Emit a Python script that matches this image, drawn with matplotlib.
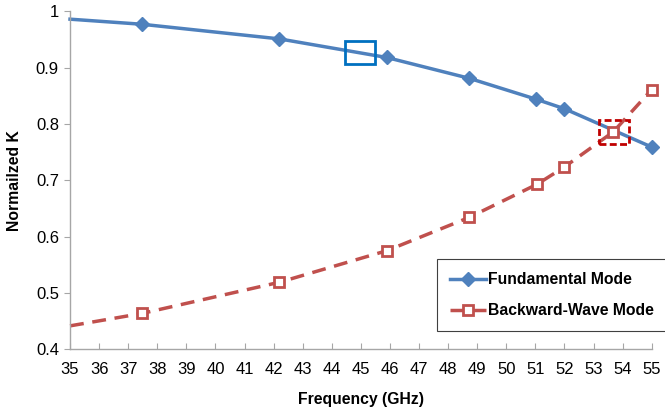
import matplotlib.pyplot as plt
from matplotlib.patches import Rectangle

plt.rcParams['font.family'] = ['Liberation Sans', 'DejaVu Sans']

# ==================== data ====================
freq_fund = [35.0, 37.47, 42.2, 45.89, 48.73, 51.02, 52.0, 55.0]
k_fund = [0.986, 0.977, 0.951, 0.918, 0.881, 0.844, 0.827, 0.759]

freq_bw = [35.0, 37.47, 42.2, 45.89, 48.72, 51.06, 51.98, 53.68, 55.0]
k_bw = [0.4416, 0.4636, 0.519, 0.575, 0.634, 0.693, 0.723, 0.786, 0.861]

xticks = list(range(35, 56))
yticks = [0.4, 0.5, 0.6, 0.7, 0.8, 0.9, 1.0]
ytick_labels = ['0.4', '0.5', '0.6', '0.7', '0.8', '0.9', '1']

# highlight boxes (x0, y0, width, height) in data units
box_fund = (44.46, 0.906, 1.01, 0.041)
box_bw = (53.2, 0.764, 1.02, 0.043)

blue = '#4F81BD'
red = '#C0504D'

# ==================== plot ====================
fig = plt.figure(figsize=(6.65, 4.15), dpi=100)
ax = fig.add_axes([0.1053, 0.1583, 0.8747, 0.8145])

ax.plot(freq_fund, k_fund, '-', color=blue, linewidth=2.5, marker='D', markersize=7,
        markerfacecolor=blue, markeredgecolor=blue, markevery=list(range(1, len(freq_fund))),
        label='Fundamental Mode', clip_on=False)
ax.plot(freq_bw, k_bw, '--', color=red, linewidth=2.5, dashes=(4, 2.5), marker='s', markersize=7,
        markerfacecolor='white', markeredgecolor=red, markeredgewidth=2,
        markevery=list(range(1, len(freq_bw))), label='Backward-Wave Mode', clip_on=False)

ax.add_patch(Rectangle(box_fund[:2], box_fund[2], box_fund[3], fill=False,
                       edgecolor='#0070C0', linewidth=2, zorder=5))
ax.add_patch(Rectangle(box_bw[:2], box_bw[2], box_bw[3], fill=False,
                       edgecolor='#C00000', linewidth=2, linestyle=(0, (2.5, 1.2)), zorder=5))

ax.set_xlim(35, 55)
ax.set_ylim(0.4, 1.0)
ax.set_xticks(xticks)
ax.set_yticks(yticks)
ax.set_yticklabels(ytick_labels)

for s in ['top', 'right']:
    ax.spines[s].set_visible(False)
for s in ['left', 'bottom']:
    ax.spines[s].set_color('#A6A6A6')
    ax.spines[s].set_linewidth(1)
ax.tick_params(axis='x', direction='in', length=4, color='#A6A6A6', labelsize=12, pad=9)
ax.tick_params(axis='y', direction='out', length=4, color='#A6A6A6', labelsize=12, pad=4)

ax.set_xlabel('Frequency (GHz)', fontsize=11.3, fontweight='bold', labelpad=11)
ax.set_ylabel('Normailzed K', fontsize=11.3, fontweight='bold', labelpad=10)

leg = ax.legend(loc='upper left', bbox_to_anchor=(0.657, 0.376), bbox_transform=fig.transFigure,
                borderaxespad=0, fancybox=False, framealpha=1, edgecolor='#404040',
                prop={'weight': 'bold', 'size': 11.3}, handlelength=2.3, handletextpad=0.1,
                labelspacing=1.0, borderpad=0.85)
leg.get_frame().set_linewidth(0.8)
leg.set_zorder(6)

fig.savefig('out.png', dpi=100)
